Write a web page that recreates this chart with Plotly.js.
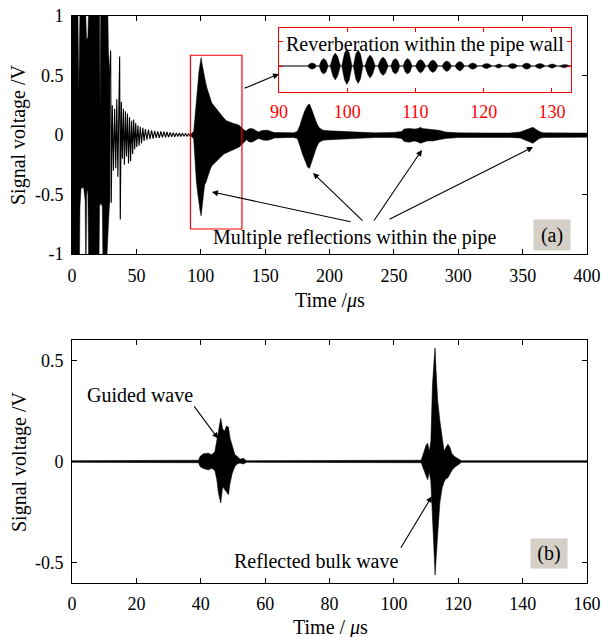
<!DOCTYPE html>
<html>
<head>
<meta charset="utf-8">
<script src="https://cdn.plot.ly/plotly-3.0.1.min.js"></script>
<style>html,body{margin:0;padding:0;background:#fff;}#chart{width:604px;height:637px;}</style>
</head>
<body>
<div id="chart"></div>
<script>
// ---------- Panel (a): signal ----------
// early saturated part: upper / lower envelope (V) vs time (us)
const aEarlyT  = [0, 4.6, 5.2, 5.8, 6.2, 7, 9, 10.2, 10.6, 11, 11.4, 12.3, 12.9, 21, 21.4, 21.8, 22.3, 23.5, 24, 27, 27.8, 28.3, 29, 29.5];
const aEarlyUp = [1.05, 1.05, 0.35, 1.05, 1.05, 1.05, 1.05, 1.05, 1.05, 0.9, 0.8, 0.82, 1.05, 1.05, 1.05, 0.2, 1.05, 1.05, 1.05, 1.05, 1.05, 0.7, 0.55, 0.5];
const aEarlyLo = [-1.05, -1.05, -1.05, -1.05, -0.6, -0.45, -0.44, -0.55, -1.05, -1.05, -0.5, -0.45, -1.05, -1.05, -0.6, -0.58, -0.57, -0.6, -1.05, -1.05, -0.85, -0.75, -0.6, -0.55];
// ring-down: individual peaks (V) vs time (us)
const aRingT = [29.5, 30, 30.5, 31.3, 32.2, 33.1, 34, 34.8, 35.6, 36.4, 37, 37.5, 38.3, 39.1, 39.9, 40.7, 41.5, 42.3, 43.1, 43.9, 44.7, 45.5, 46.3, 47.1, 47.9, 48.7, 49.5, 50.3, 51.2, 52.1, 53, 54, 55, 56, 57, 58.2, 59.4, 60.6, 61.8, 63, 64.2, 65.4, 66.6, 67.8, 69, 70.2, 71.4, 72.6, 73.8, 75, 76.2, 77.4, 78.6, 79.8, 81, 82.2, 83.4, 84.6, 85.8, 87, 88.2, 89.4, 90.6, 91.8, 92.5];
const aRingV = [0.5, 0.71, -0.57, 0.25, -0.3, 0.22, -0.28, 0.3, -0.35, 0.3, 0.66, -0.71, 0.28, -0.2, 0.22, -0.25, 0.2, -0.18, 0.18, -0.24, 0.15, -0.22, 0.12, -0.16, 0.13, -0.12, 0.1, -0.1, 0.08, -0.09, 0.07, -0.07, 0.06, -0.05, 0.05, -0.04, 0.045, -0.035, 0.04, -0.03, 0.035, -0.025, 0.03, -0.025, 0.03, -0.02, 0.028, -0.02, 0.025, -0.018, 0.022, -0.015, 0.02, -0.015, 0.018, -0.012, 0.016, -0.012, 0.014, -0.01, 0.012, -0.01, 0.01, -0.01, 0];
// echoes: upper / lower envelope (V) vs time (us)
const aLateT  = [92.5, 94.5, 95.5, 96.5, 97.5, 98.5, 99.5, 100.3, 101, 102, 103, 104, 105, 106, 107, 108.5, 110, 112, 114, 116, 118, 120, 122, 124, 126, 128, 130, 132, 134, 135.5, 137, 139, 141, 143, 145, 147, 149, 152, 155, 157, 162, 168, 172, 175, 177, 179, 181, 183, 184.5, 186, 188, 190, 192, 195, 200, 210, 220, 235, 250, 256, 258, 262, 266, 269, 270.5, 272, 276, 280, 285, 290, 300, 320, 340, 348, 352, 356, 358, 360, 363, 366, 380, 400];
const aLateUp = [0.01, 0.03, 0.15, 0.3, 0.42, 0.52, 0.6, 0.65, 0.6, 0.53, 0.48, 0.43, 0.39, 0.35, 0.31, 0.27, 0.25, 0.22, 0.19, 0.16, 0.14, 0.12, 0.11, 0.1, 0.095, 0.09, 0.08, 0.06, 0.04, 0.035, 0.05, 0.055, 0.05, 0.035, 0.025, 0.035, 0.04, 0.04, 0.03, 0.02, 0.02, 0.018, 0.018, 0.03, 0.08, 0.15, 0.21, 0.25, 0.26, 0.22, 0.15, 0.1, 0.06, 0.04, 0.035, 0.03, 0.022, 0.018, 0.022, 0.03, 0.05, 0.055, 0.05, 0.055, 0.065, 0.055, 0.05, 0.045, 0.04, 0.025, 0.018, 0.017, 0.017, 0.025, 0.04, 0.06, 0.065, 0.05, 0.03, 0.018, 0.017, 0.016];
const aLateLo = [-0.01, -0.03, -0.2, -0.38, -0.48, -0.57, -0.64, -0.68, -0.62, -0.5, -0.42, -0.4, -0.37, -0.34, -0.3, -0.26, -0.24, -0.22, -0.2, -0.18, -0.16, -0.15, -0.14, -0.13, -0.12, -0.11, -0.1, -0.08, -0.06, -0.04, -0.055, -0.06, -0.055, -0.04, -0.03, -0.035, -0.045, -0.045, -0.035, -0.025, -0.022, -0.02, -0.02, -0.03, -0.09, -0.16, -0.22, -0.27, -0.28, -0.24, -0.17, -0.1, -0.06, -0.045, -0.04, -0.035, -0.028, -0.022, -0.022, -0.03, -0.055, -0.06, -0.05, -0.06, -0.07, -0.06, -0.05, -0.05, -0.04, -0.03, -0.022, -0.02, -0.02, -0.025, -0.045, -0.06, -0.07, -0.055, -0.03, -0.022, -0.018, -0.018];

// ---------- Inset: reverberation bursts (relative units) ----------
const insetT  = [90, 94.2, 94.5, 94.85, 95.2, 95.5, 95.9, 96.2, 96.55, 96.9, 97.2, 97.5, 97.9, 98.25, 98.6, 99.0, 99.2, 99.6, 99.95, 100.3, 100.7, 100.9, 101.25, 101.6, 101.95, 102.3, 102.6, 103.0, 103.35, 103.7, 104.1, 104.5, 104.9, 105.25, 105.6, 106.0, 106.4, 106.7, 107.05, 107.4, 107.7, 108.2, 108.5, 108.85, 109.2, 109.5, 110.0, 110.4, 110.75, 111.1, 111.5, 111.8, 112.2, 112.55, 112.9, 113.3, 113.9, 114.25, 114.6, 114.95, 115.3, 115.8, 116.15, 116.5, 116.85, 117.2, 117.7, 118.05, 118.4, 118.75, 119.1, 119.7, 120.1, 120.45, 120.8, 121.2, 121.6, 121.9, 122.2, 122.5, 122.8, 123.5, 123.9, 124.25, 124.6, 125.0, 125.6, 125.95, 126.3, 126.65, 127.0, 127.5, 127.9, 128.25, 128.6, 129.0, 129.4, 129.7, 130.05, 130.4, 130.7, 131.1, 131.5, 131.85, 132.2, 132.6, 133];
const insetUp = [0.006, 0.006, 0.045, 0.06, 0.045, 0.006, 0.006, 0.11, 0.15, 0.11, 0.006, 0.006, 0.19, 0.26, 0.19, 0.006, 0.006, 0.26, 0.34, 0.26, 0.006, 0.006, 0.24, 0.32, 0.24, 0.006, 0.006, 0.16, 0.22, 0.16, 0.006, 0.006, 0.13, 0.18, 0.13, 0.006, 0.006, 0.11, 0.15, 0.11, 0.006, 0.006, 0.11, 0.15, 0.11, 0.006, 0.006, 0.1, 0.13, 0.1, 0.006, 0.006, 0.09, 0.12, 0.09, 0.006, 0.006, 0.075, 0.1, 0.075, 0.006, 0.006, 0.07, 0.09, 0.07, 0.006, 0.006, 0.045, 0.06, 0.045, 0.006, 0.006, 0.04, 0.05, 0.04, 0.006, 0.006, 0.03, 0.04, 0.03, 0.006, 0.006, 0.04, 0.05, 0.04, 0.006, 0.006, 0.045, 0.06, 0.045, 0.006, 0.006, 0.04, 0.05, 0.04, 0.006, 0.006, 0.03, 0.04, 0.03, 0.006, 0.006, 0.025, 0.03, 0.025, 0.006, 0.006];
const insetLo = [-0.006, -0.006, -0.045, -0.065, -0.045, -0.006, -0.006, -0.12, -0.16, -0.12, -0.006, -0.006, -0.2, -0.28, -0.2, -0.006, -0.006, -0.28, -0.37, -0.28, -0.006, -0.006, -0.26, -0.35, -0.26, -0.006, -0.006, -0.17, -0.24, -0.17, -0.006, -0.006, -0.14, -0.19, -0.14, -0.006, -0.006, -0.12, -0.16, -0.12, -0.006, -0.006, -0.12, -0.16, -0.12, -0.006, -0.006, -0.1, -0.14, -0.1, -0.006, -0.006, -0.1, -0.13, -0.1, -0.006, -0.006, -0.08, -0.11, -0.08, -0.006, -0.006, -0.07, -0.1, -0.07, -0.006, -0.006, -0.05, -0.065, -0.05, -0.006, -0.006, -0.04, -0.055, -0.04, -0.006, -0.006, -0.03, -0.045, -0.03, -0.006, -0.006, -0.04, -0.055, -0.04, -0.006, -0.006, -0.05, -0.065, -0.05, -0.006, -0.006, -0.04, -0.055, -0.04, -0.006, -0.006, -0.03, -0.045, -0.03, -0.006, -0.006, -0.025, -0.035, -0.025, -0.006, -0.006];

// ---------- Panel (b): upper / lower envelope (V) vs time (us) ----------
const bT  = [0, 39.3, 39.8, 40.8, 42.4, 43.4, 44.4, 45.0, 45.5, 46.2, 46.8, 47.4, 48.0, 48.6, 49.1, 49.8, 50.6, 51.4, 52.2, 53.2, 54.2, 108.5, 109.3, 110, 110.5, 111, 111.5, 112, 112.5, 112.8, 113.1, 113.6, 114.3, 115, 115.6, 116.2, 116.8, 117.4, 118, 118.8, 119.8, 121, 160];
const bUp = [0.004, 0.006, 0.025, 0.038, 0.041, 0.033, 0.049, 0.107, 0.14, 0.213, 0.16, 0.15, 0.175, 0.17, 0.115, 0.07, 0.033, 0.025, 0.011, 0.016, 0.004, 0.006, 0.04, 0.08, 0.09, 0.05, 0.1, 0.38, 0.5, 0.56, 0.45, 0.3, 0.2, 0.12, 0.05, 0.07, 0.085, 0.07, 0.04, 0.025, 0.015, 0.004, 0.004];
const bLo = [-0.004, -0.006, -0.025, -0.035, -0.041, -0.033, -0.045, -0.09, -0.156, -0.205, -0.125, -0.135, -0.15, -0.164, -0.107, -0.057, -0.025, -0.011, -0.008, -0.012, -0.004, -0.006, -0.04, -0.07, -0.09, -0.05, -0.1, -0.25, -0.45, -0.56, -0.5, -0.36, -0.2, -0.13, -0.1, -0.085, -0.08, -0.065, -0.045, -0.03, -0.018, -0.004, -0.004];

// ---------- tick labels ----------
const aXTicks = [0, 50, 100, 150, 200, 250, 300, 350, 400];
const aYTicks = [-1, -0.5, 0, 0.5, 1];
const aYTickText = ['-1', '-0.5', '0', '0.5', '1'];
const bXTicks = [0, 20, 40, 60, 80, 100, 120, 140, 160];
const bYTicks = [-0.5, 0, 0.5];
const bYTickText = ['-0.5', '0', '0.5'];
const insetXTicks = [90, 100, 110, 120, 130];

// ---------- helpers ----------
const W = 604, H = 637;
const px = v => v / W, py = v => 1 - v / H;
function band(t, up, lo, xa, ya, lw) {
  return {
    x: t.concat(t.slice().reverse()),
    y: up.concat(lo.slice().reverse()),
    xaxis: xa, yaxis: ya, type: 'scatter', mode: 'lines', fill: 'toself',
    fillcolor: '#000', line: {color: '#000', width: lw}, hoverinfo: 'skip', showlegend: false
  };
}
const FONT = 'Liberation Serif, Times New Roman, serif';
function axis(extra) {
  return Object.assign({
    showline: true, linecolor: '#000', linewidth: 1, mirror: 'ticks',
    ticks: 'inside', ticklen: 5, tickwidth: 1, tickcolor: '#000',
    showgrid: false, zeroline: false, fixedrange: true,
    tickfont: {family: FONT, size: 18, color: '#000'}
  }, extra);
}

const traces = [
  band(aEarlyT, aEarlyUp, aEarlyLo, 'x', 'y', 0.5),
  {x: aRingT, y: aRingV, xaxis: 'x', yaxis: 'y', type: 'scatter', mode: 'lines',
   line: {color: '#000', width: 1.1}, hoverinfo: 'skip', showlegend: false},
  band(aLateT, aLateUp, aLateLo, 'x', 'y', 0.5),
  band(bT, bUp, bLo, 'x2', 'y2', 0.6),
  band(insetT, insetUp, insetLo, 'x3', 'y3', 0.4)
];

const tfont = {family: FONT, size: 20, color: '#000'};
function label(x, y, text, extra) {
  return Object.assign({xref: 'paper', yref: 'paper', x: px(x), y: py(y), text: text,
    xanchor: 'center', yanchor: 'middle', showarrow: false, font: tfont}, extra || {});
}
function arrow(xr, yr, x, y, ax, ay) {
  return {xref: xr, yref: yr, axref: xr, ayref: yr, x: x, y: y, ax: ax, ay: ay, text: '',
          showarrow: true, arrowhead: 2, arrowsize: 1.1, arrowwidth: 1.1, arrowcolor: '#000', standoff: 0};
}

const layout = {
  width: W, height: H, margin: {l: 0, r: 0, t: 0, b: 0},
  paper_bgcolor: '#fff', plot_bgcolor: 'rgba(0,0,0,0)', showlegend: false,
  font: {family: FONT, size: 18, color: '#000'},
  xaxis: axis({domain: [px(72), px(587)], range: [0, 400], tickvals: aXTicks, anchor: 'y', ticklabelstandoff: 5}),
  yaxis: axis({domain: [py(254), py(16)], range: [-1, 1], tickvals: aYTicks, ticktext: aYTickText, anchor: 'x', ticklabelstandoff: 4}),
  xaxis2: axis({domain: [px(72), px(587)], range: [0, 160], tickvals: bXTicks, anchor: 'y2', ticklabelstandoff: 4}),
  yaxis2: axis({domain: [py(583), py(340)], range: [-0.6, 0.6], tickvals: bYTicks, ticktext: bYTickText, anchor: 'x2', ticklabelstandoff: 4}),
  xaxis3: axis({domain: [px(279), px(571)], range: [90, 132.8], tickvals: insetXTicks, anchor: 'y3',
                linecolor: '#ff0000', tickcolor: '#ff0000', ticklen: 4, ticklabelstandoff: 3,
                tickfont: {family: FONT, size: 18, color: '#ff0000'}}),
  yaxis3: axis({domain: [py(92), py(28)], range: [-0.52, 0.76], tickvals: [0, 0.5], showticklabels: false, anchor: 'x3',
                linecolor: '#ff0000', tickcolor: '#ff0000', ticklen: 4}),
  shapes: [
    {type: 'rect', xref: 'x', yref: 'y', x0: 92, x1: 132, y0: -0.79, y1: 0.67,
     line: {color: '#ff0000', width: 1.2}, fillcolor: 'rgba(0,0,0,0)'}
  ],
  annotations: [
    // axis titles
    label(19, 135, 'Signal voltage /V', {textangle: -90}),
    label(19, 462, 'Signal voltage /V', {textangle: -90}),
    label(330, 300, 'Time /<i>μ</i>s'),
    label(330, 627, 'Time / <i>μ</i>s'),
    // texts
    label(424.5, 44, 'Reverberation within the pipe wall'),
    label(355, 237, 'Multiple reflections within the pipe'),
    label(140, 395, 'Guided wave'),
    label(316, 561, 'Reflected bulk wave'),
    // panel labels
    label(552, 234.5, '(a)', {bgcolor: '#d4d0c8', width: 36, height: 30, borderpad: 0}),
    label(549, 553.5, '(b)', {bgcolor: '#d4d0c8', width: 36, height: 29, borderpad: 0}),
    // arrows (a)
    arrow('x', 'y', 108.7, -0.479, 217.5, -0.731),
    arrow('x', 'y', 187.2, -0.319, 226.8, -0.731),
    arrow('x', 'y', 271.8, -0.126, 233.8, -0.731),
    arrow('x', 'y', 358.1, -0.101, 245.4, -0.714),
    arrow('x', 'y', 160.8, 0.513, 132.8, 0.387),
    // arrows (b)
    arrow('x2', 'y2', 45.4, 0.113, 37.6, 0.28),
    arrow('x2', 'y2', 111.8, -0.172, 101.9, -0.433)
  ]
};

Plotly.newPlot('chart', traces, layout, {displayModeBar: false, staticPlot: true});
</script>
</body>
</html>
